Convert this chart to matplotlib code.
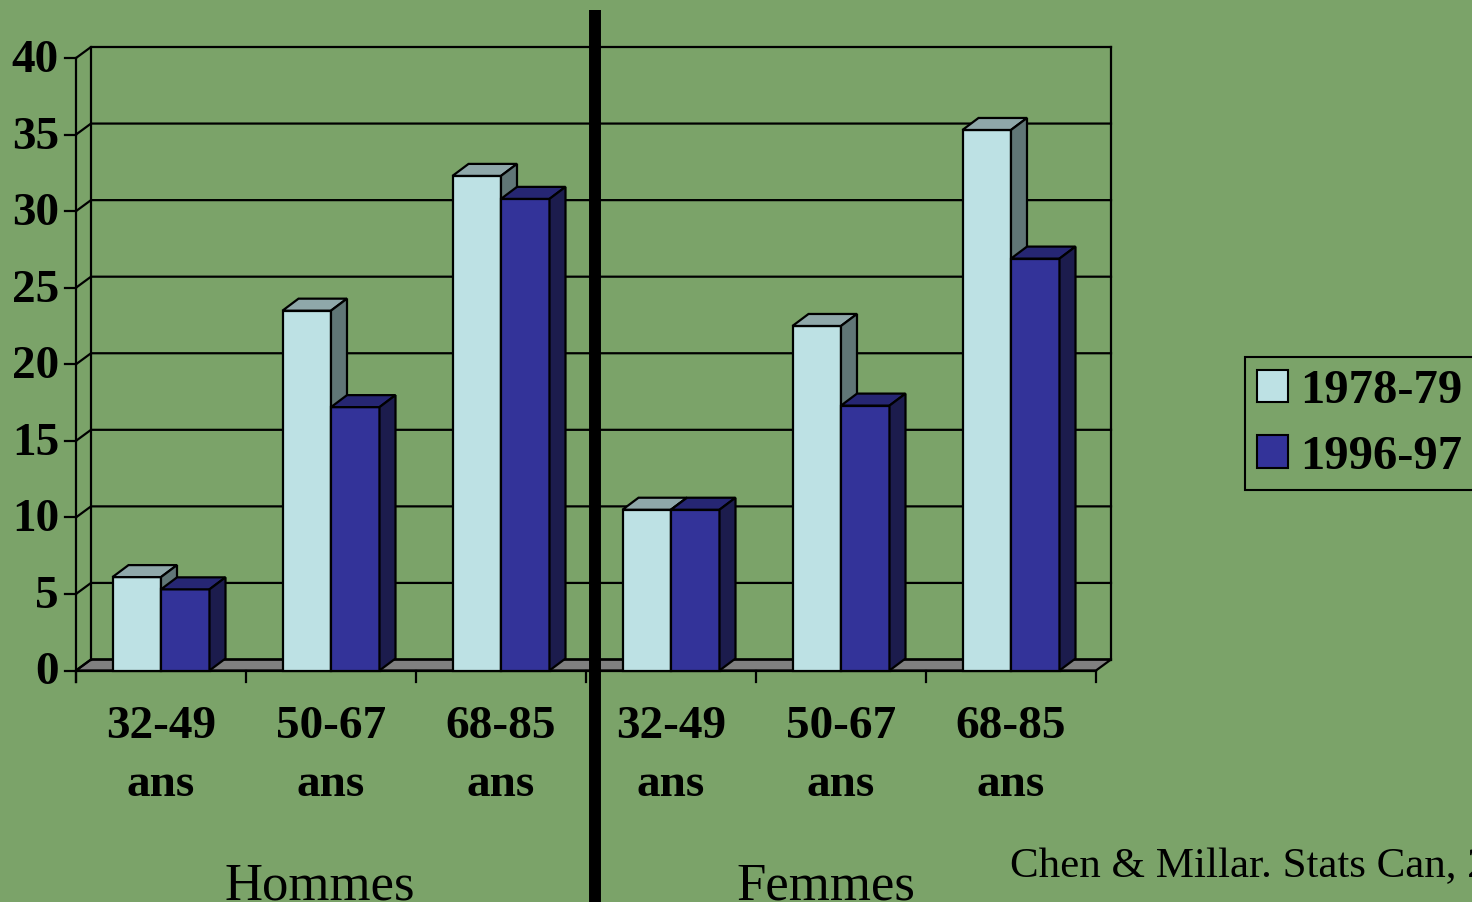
import matplotlib
matplotlib.use('Agg')
from matplotlib import pyplot as plt
from matplotlib.patches import Polygon, Rectangle, Patch
from matplotlib.lines import Line2D

plt.rcParams['font.family'] = ['Liberation Serif', 'DejaVu Serif']

groups = ['32-49\nans', '50-67\nans', '68-85\nans', '32-49\nans', '50-67\nans', '68-85\nans']
series_names = ['1978-79', '1996-97']
val_7879 = [6.1, 23.5, 32.3, 10.5, 22.5, 35.3]
val_9697 = [5.3, 17.2, 30.8, 10.5, 17.3, 26.9]
yticks = [0, 5, 10, 15, 20, 25, 30, 35, 40]

BG = '#7BA369'
face = {'1978-79': ('#BDE1E4', '#8FA8AA', '#607676'),
        '1996-97': ('#333399', '#262673', '#1C1C4D')}

W, H, DPI = 1472, 902, 100
fig = plt.figure(figsize=(W / DPI, H / DPI), dpi=DPI, facecolor=BG)
ax = fig.add_axes([76 / W, (H - 670.5) / H, 1020 / W, 612.5 / H])
ax.set_xlim(0, 6)
ax.set_ylim(0, 40)
ax.axis('off')

# pixel -> data unit conversion for the fake depth
px_x = 1020 / 6
px_y = 612.5 / 40
wx, wy = 15 / px_x, 11 / px_y      # wall / floor depth
bx, by = 16 / px_x, 12 / px_y      # bar depth
lw = 1.6

# floor
ax.add_patch(Polygon([(0, 0), (6, 0), (6 + wx, wy), (wx, wy)], closed=True,
                     facecolor='#808080', edgecolor='black', lw=lw, zorder=1, clip_on=False))

# back wall gridlines
for v in yticks:
    ax.plot([0, wx, 6 + wx], [v, v + wy, v + wy], color='black', lw=lw, zorder=1, clip_on=False)
ax.plot([wx, wx], [wy, 40 + wy], color='black', lw=lw, zorder=1, clip_on=False)
ax.plot([6 + wx, 6 + wx], [wy, 40 + wy], color='black', lw=lw, zorder=1, clip_on=False)

# value axis on the front plane
tick_y = 11 / px_y
ax.plot([0, 0], [-tick_y, 40], color='black', lw=lw, zorder=3, clip_on=False)
for v in yticks:
    ax.plot([-11 / px_x, 0], [v, v], color='black', lw=lw, zorder=3, clip_on=False)
    ax.annotate(str(v), (0, v), xytext=(-17, -3), textcoords='offset pixels',
                ha='right', va='center', fontsize=34, fontweight='bold', annotation_clip=False)

# category axis
ax.plot([0, 6], [0, 0], color='black', lw=lw, zorder=3, clip_on=False)
for i in range(7):
    ax.plot([i, i], [-tick_y, 0], color='black', lw=lw, zorder=3, clip_on=False)
for i, lab in enumerate(groups):
    ax.annotate(lab, (i + 0.5, 0), xytext=(0, -35), textcoords='offset pixels',
                ha='center', va='top', fontsize=34, fontweight='bold',
                linespacing=1.5, annotation_clip=False)


def bar3d(x0, x1, h, name):
    front, top, side = face[name]
    ax.add_patch(Rectangle((x0, 0), x1 - x0, h, facecolor=front, edgecolor='black',
                           lw=lw, zorder=4, clip_on=False))
    ax.add_patch(Polygon([(x0, h), (x1, h), (x1 + bx, h + by), (x0 + bx, h + by)],
                         facecolor=top, edgecolor='black', lw=lw, zorder=4, clip_on=False))
    ax.add_patch(Polygon([(x1, 0), (x1 + bx, by), (x1 + bx, h + by), (x1, h)],
                         facecolor=side, edgecolor='black', lw=lw, zorder=4, clip_on=False))


bw = 48.5 / px_x
for i in range(len(groups)):
    c = i + 0.5
    bar3d(c - bw, c, val_7879[i], series_names[0])
    bar3d(c, c + bw, val_9697[i], series_names[1])

# separator between men and women
fig.add_artist(Line2D([595 / W, 595 / W], [0, (H - 10) / H], color='black', lw=8.6,
                      solid_capstyle='butt', zorder=10))

fig.text(320 / W, 3 / H, 'Hommes', ha='center', va='baseline', fontsize=38)
fig.text(826 / W, 3 / H, 'Femmes', ha='center', va='baseline', fontsize=38)
fig.text(1010 / W, (H - 877) / H, 'Chen & Millar. Stats Can, 2001', ha='left',
         va='baseline', fontsize=31)

handles = [Patch(facecolor=face[n][0], edgecolor='black', lw=1.5, label=n) for n in series_names]
leg = fig.legend(handles=handles, loc='upper left', bbox_to_anchor=(1245 / W, (H - 357) / H),
                 frameon=True, fancybox=False, facecolor=BG, edgecolor='black', framealpha=1,
                 borderaxespad=0, borderpad=0.24, handlelength=0.64, handleheight=0.64,
                 handletextpad=0.25, labelspacing=0.45,
                 prop={'size': 35, 'weight': 'bold'})
leg.get_frame().set_linewidth(1.5)

fig.savefig('out.png', dpi=DPI, facecolor=BG)
